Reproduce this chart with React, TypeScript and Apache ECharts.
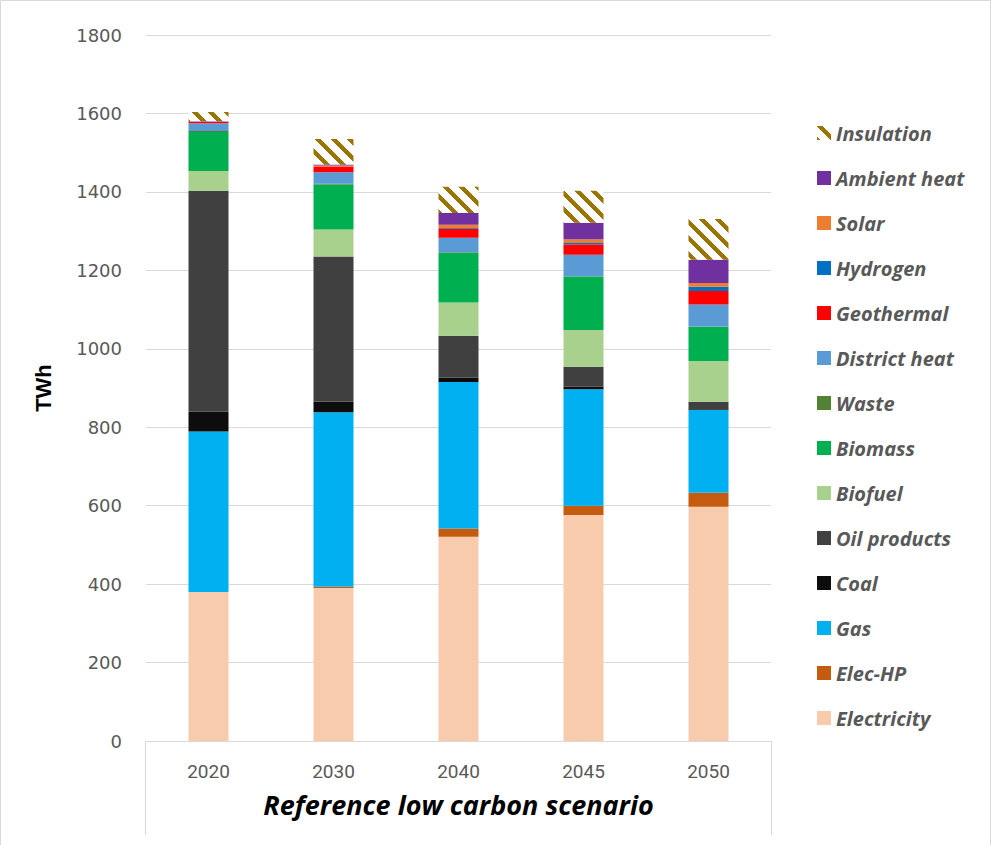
import React, { useEffect, useRef } from 'react';
import * as echarts from 'echarts';

const categories = ['2020', '2030', '2040', '2045', '2050'];

const electricity = [380, 390, 521, 576, 597];
const elecHP = [0, 3, 21, 24, 36];
const gas = [409, 445, 373, 297, 211];
const coal = [51, 27, 12, 6, 2];
const oilProducts = [563, 370, 106, 51, 19];
const biofuel = [50, 69, 85, 94, 104];
const biomass = [100, 115, 127, 136, 87];
const waste = [2, 2, 1, 1, 1];
const districtHeat = [20, 29, 37, 55, 56];
const geothermal = [3, 15, 23, 26, 34];
const hydrogen = [0, 0, 2, 4, 11];
const solar = [1, 2, 8, 9, 10];
const ambientHeat = [1, 3, 30, 42, 59];
const insulation = [24, 65, 67, 82, 104];

const seriesNames = [
  'Electricity', 'Elec-HP', 'Gas', 'Coal', 'Oil products', 'Biofuel', 'Biomass',
  'Waste', 'District heat', 'Geothermal', 'Hydrogen', 'Solar', 'Ambient heat', 'Insulation',
];
const seriesValues = [
  electricity, elecHP, gas, coal, oilProducts, biofuel, biomass,
  waste, districtHeat, geothermal, hydrogen, solar, ambientHeat, insulation,
];
const seriesColors = [
  '#F8CBAD', '#C55A11', '#00B0F0', '#0D0D0D', '#404040', '#A9D18E', '#00B050',
  '#548235', '#5B9BD5', '#FF0000', '#0070C0', '#ED7D31', '#7030A0', 'HATCH',
];

const yMin = 0;
const yMax = 1800;
const yInterval = 200;

const GRID_LEFT = 146;
const GRID_WIDTH = 625;
const GRID_TOP = 35;
const AXIS_Y = 741;

function makeHatch(): HTMLCanvasElement {
  const size = 16;
  const c = document.createElement('canvas');
  c.width = size;
  c.height = size;
  const ctx = c.getContext('2d')!;
  const img = ctx.createImageData(size, size);
  for (let y = 0; y < size; y++) {
    for (let x = 0; x < size; x++) {
      const d = (((x - y) % size) + size) % size;
      const i = (y * size + x) * 4;
      if (d < 6) {
        img.data[i] = 156; img.data[i + 1] = 116; img.data[i + 2] = 0;
      } else {
        img.data[i] = 255; img.data[i + 1] = 255; img.data[i + 2] = 255;
      }
      img.data[i + 3] = 255;
    }
  }
  ctx.putImageData(img, 0, 0);
  return c;
}

export default function App() {
  const ref = useRef<HTMLDivElement>(null);
  useEffect(() => {
    if (!ref.current) return;
    const chart = echarts.init(ref.current, undefined, { renderer: 'svg' });
    const hatch = makeHatch();
    const series = seriesNames.map((name, k) => ({
      name,
      type: 'bar',
      stack: 'total',
      barWidth: 40,
      data: seriesValues[k],
      itemStyle: {
        color: seriesColors[k] === 'HATCH'
          ? { image: hatch, repeat: 'repeat' }
          : seriesColors[k],
      },
      emphasis: { disabled: true },
    }));
    const gridRight = 991 - GRID_LEFT - GRID_WIDTH;
    chart.setOption({
      animation: false,
      backgroundColor: '#ffffff',
      grid: { left: GRID_LEFT, width: GRID_WIDTH, top: GRID_TOP, bottom: 845 - AXIS_Y, containLabel: false },
      legend: {
        orient: 'vertical',
        left: 812,
        top: 118,
        itemWidth: 14,
        itemHeight: 14,
        itemGap: 25,
        icon: 'rect',
        data: [...seriesNames].reverse(),
        textStyle: {
          color: '#595959',
          fontFamily: 'Open Sans',
          fontWeight: 'bold',
          fontStyle: 'italic',
          fontSize: 20,
          lineHeight: 20,
        },
      },
      xAxis: {
        type: 'category',
        data: categories,
        name: 'Reference low carbon scenario',
        nameLocation: 'middle',
        nameGap: 50,
        nameTextStyle: {
          color: '#000000',
          fontFamily: 'Open Sans',
          fontWeight: 'bold',
          fontStyle: 'italic',
          fontSize: 27,
        },
        axisLine: { show: true, lineStyle: { color: '#D9D9D9', width: 1 } },
        axisTick: { show: false },
        axisLabel: {
          color: '#595959',
          fontFamily: 'Roboto',
          fontSize: 19,
          margin: 21,
        },
      },
      yAxis: {
        type: 'value',
        min: yMin,
        max: yMax,
        interval: yInterval,
        name: 'TWh',
        nameLocation: 'middle',
        nameGap: 92,
        nameTextStyle: {
          color: '#000000',
          fontFamily: 'Liberation Sans',
          fontWeight: 'bold',
          fontSize: 22,
        },
        axisLine: { show: false },
        axisTick: { show: false },
        axisLabel: {
          color: '#595959',
          fontFamily: 'DejaVu Sans',
          fontSize: 18,
          margin: 24,
          formatter: (v: number) => String(v),
        },
        splitLine: { lineStyle: { color: '#D9D9D9', width: 1 } },
      },
      graphic: [
        {
          type: 'rect',
          silent: true,
          shape: { x: 0.5, y: 0.5, width: 990, height: 900 },
          style: { fill: 'none', stroke: '#D9D9D9', lineWidth: 1 },
        },
        {
          type: 'line',
          silent: true,
          shape: { x1: GRID_LEFT - 0.5, y1: AXIS_Y, x2: GRID_LEFT - 0.5, y2: 835 },
          style: { stroke: '#D9D9D9', lineWidth: 1 },
        },
        {
          type: 'line',
          silent: true,
          shape: { x1: 991 - gridRight + 0.5, y1: AXIS_Y, x2: 991 - gridRight + 0.5, y2: 835 },
          style: { stroke: '#D9D9D9', lineWidth: 1 },
        },
      ],
      series,
    });
    return () => chart.dispose();
  }, []);
  return (
    <div
      ref={ref}
      style={{ position: 'fixed', left: 0, top: 0, width: 991, height: 845, background: '#fff' }}
    />
  );
}
